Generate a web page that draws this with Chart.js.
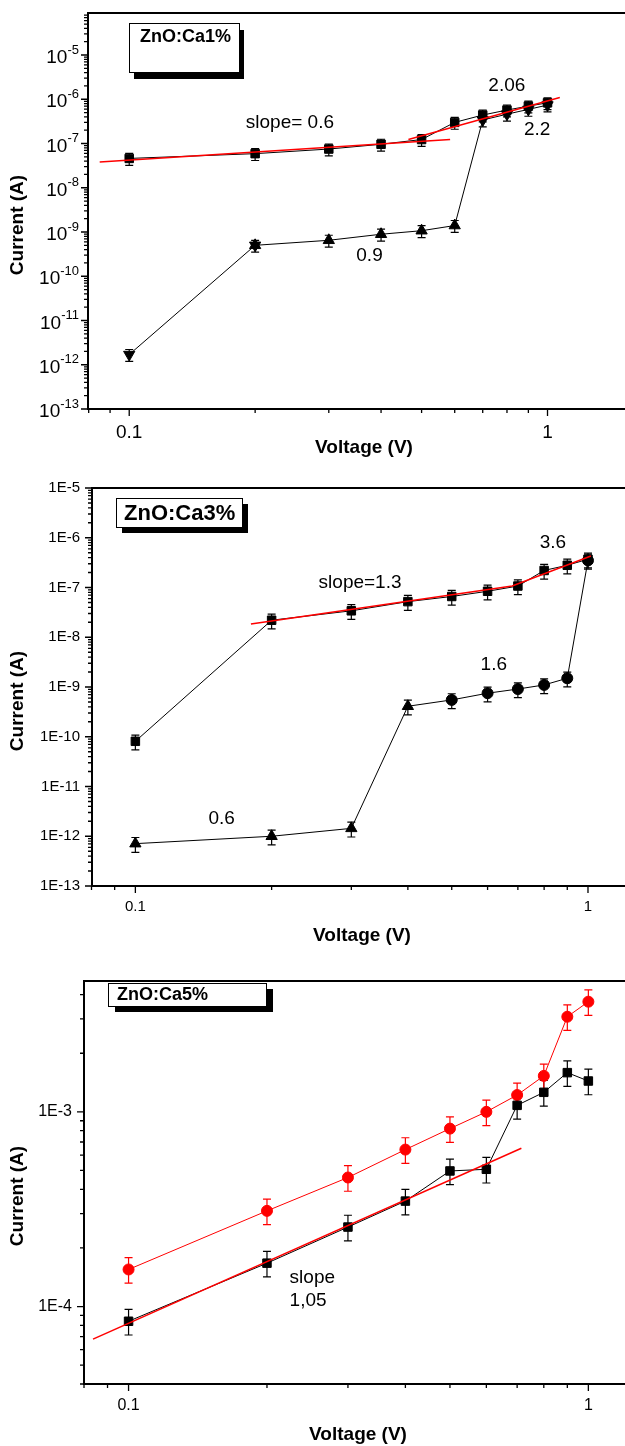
<!DOCTYPE html>
<html>
<head>
<meta charset="utf-8">
<title>ZnO:Ca I-V curves</title>
<script src="https://cdn.jsdelivr.net/npm/chart.js@4.4.1/dist/chart.umd.min.js"></script>
<style>
  html, body { margin: 0; padding: 0; background: #fff; }
  body { position: relative; width: 625px; height: 1446px; overflow: hidden; }
  canvas { position: absolute; left: 0; }
</style>
</head>
<body>
<canvas id="ca1" width="625" height="465" style="top:0px"></canvas>
<canvas id="ca3" width="625" height="490" style="top:465px"></canvas>
<canvas id="ca5" width="625" height="491" style="top:955px"></canvas>
<script>
const FONT = "'Liberation Sans', Arial, Helvetica, sans-serif";

const voltage = [0.1, 0.2, 0.3, 0.4, 0.5, 0.6, 0.7, 0.8, 0.9, 1.0];

// ZnO:Ca1%
const ca1Upper = [4.6e-8, 5.9e-8, 7.5e-8, 9.6e-8, 1.23e-7, 3.0e-7, 4.4e-7, 5.7e-7, 7.0e-7, 8.3e-7];
const ca1Lower = [1.7e-12, 5.0e-10, 6.5e-10, 8.9e-10, 1.07e-9, 1.4e-9, 3.4e-7, 4.6e-7, 5.9e-7, 7.4e-7];
const ca1FitLowV = [0.085, 0.585];
const ca1FitLowI = [3.8e-8, 1.23e-7];
const ca1FitHighV = [0.465, 1.07];
const ca1FitHighI = [1.23e-7, 1.1e-6];

// ZnO:Ca3%
const ca3Upper = [8.1e-11, 2.2e-8, 3.4e-8, 5.2e-8, 6.6e-8, 8.4e-8, 1.07e-7, 2.2e-7, 2.8e-7, 3.7e-7];
const ca3Lower = [7.1e-13, 1.0e-12, 1.44e-12, 4.1e-10, 5.5e-10, 7.5e-10, 9.1e-10, 1.1e-9, 1.5e-9, 3.5e-7];
const ca3FitV = [0.18, 0.68, 1.015];
const ca3FitI = [1.85e-8, 1.07e-7, 4.3e-7];

// ZnO:Ca5%
const ca5Black = [8.4e-5, 1.67e-4, 2.56e-4, 3.48e-4, 4.97e-4, 5.07e-4, 1.08e-3, 1.26e-3, 1.59e-3, 1.44e-3];
const ca5Red = [1.55e-4, 3.1e-4, 4.6e-4, 6.4e-4, 8.2e-4, 1.0e-3, 1.22e-3, 1.53e-3, 3.08e-3, 3.68e-3];
const ca5FitV = [0.0837, 0.715];
const ca5FitI = [6.8e-5, 6.5e-4];

function points(ys, xs = voltage) {
  return ys.map((y, i) => ({ x: xs[i], y: y }));
}

// 1..9 x 10^n positions inside [min, max]
function decadeMarks(min, max) {
  const major = [], minor = [];
  const lo = Math.floor(Math.log10(min)), hi = Math.ceil(Math.log10(max));
  for (let e = lo; e <= hi; e++) {
    for (let m = 1; m <= 9; m++) {
      const v = m * Math.pow(10, e);
      if (v < min * 0.995 || v > max * 1.005) continue;
      (m === 1 ? major : minor).push(v);
    }
  }
  return { major, minor };
}

const errorBars = {
  id: 'errorBars',
  beforeDatasetsDraw(chart) {
    const { ctx, scales: { x, y } } = chart;
    chart.data.datasets.forEach(ds => {
      if (!ds.errFrac) return;
      ctx.save();
      ctx.strokeStyle = ds.borderColor;
      ctx.lineWidth = 1.2;
      ds.data.forEach(p => {
        const px = x.getPixelForValue(p.x);
        const hi = y.getPixelForValue(p.y * (1 + ds.errFrac));
        const lo = y.getPixelForValue(p.y * (1 - ds.errFrac));
        ctx.beginPath();
        ctx.moveTo(px, hi); ctx.lineTo(px, lo);
        ctx.moveTo(px - 4, hi); ctx.lineTo(px + 4, hi);
        ctx.moveTo(px - 4, lo); ctx.lineTo(px + 4, lo);
        ctx.stroke();
      });
      ctx.restore();
    });
  }
};

const decor = {
  id: 'decor',
  afterDraw(chart, args, o) {
    const { ctx, chartArea: a, scales: { x, y } } = chart;
    ctx.save();

    // frame (open on the right)
    ctx.strokeStyle = '#000';
    ctx.lineWidth = 2;
    ctx.beginPath();
    ctx.moveTo(chart.width, a.top);
    ctx.lineTo(a.left, a.top);
    ctx.lineTo(a.left, a.bottom);
    ctx.lineTo(chart.width, a.bottom);
    ctx.stroke();

    // outward ticks
    ctx.lineWidth = 1.3;
    ctx.beginPath();
    const ym = decadeMarks(y.min, y.max);
    ym.major.forEach(v => { const p = y.getPixelForValue(v); ctx.moveTo(a.left, p); ctx.lineTo(a.left - 7, p); });
    ym.minor.forEach(v => { const p = y.getPixelForValue(v); ctx.moveTo(a.left, p); ctx.lineTo(a.left - 4, p); });
    const xm = decadeMarks(x.min, x.max);
    xm.major.forEach(v => { const p = x.getPixelForValue(v); ctx.moveTo(p, a.bottom); ctx.lineTo(p, a.bottom + 7); });
    xm.minor.forEach(v => { const p = x.getPixelForValue(v); ctx.moveTo(p, a.bottom); ctx.lineTo(p, a.bottom + 4); });
    ctx.stroke();

    ctx.fillStyle = '#000';
    ctx.textBaseline = 'middle';

    // 10^n labels with real superscripts
    if (o.powerLabels) {
      ym.major.forEach(v => {
        const p = y.getPixelForValue(v);
        const sup = String(Math.round(Math.log10(v)));
        ctx.font = `13px ${FONT}`;
        const ws = ctx.measureText(sup).width;
        const xr = a.left - 9;
        ctx.textAlign = 'left';
        ctx.fillText(sup, xr - ws, p - 5);
        ctx.font = `19px ${FONT}`;
        ctx.textAlign = 'right';
        ctx.fillText('10', xr - ws, p + 3);
      });
    }

    // sample label box with drop shadow
    const b = o.box;
    const bx = a.left + b.dx, by = a.top + b.dy;
    ctx.fillStyle = '#000';
    ctx.fillRect(bx + b.sx, by + b.sy, b.w, b.h);
    ctx.fillStyle = '#fff';
    ctx.fillRect(bx, by, b.w, b.h);
    ctx.lineWidth = 1;
    ctx.strokeRect(bx + 0.5, by + 0.5, b.w, b.h);
    ctx.fillStyle = '#000';
    ctx.font = `bold ${b.size}px ${FONT}`;
    ctx.textAlign = 'left';
    ctx.fillText(b.text, bx + b.tx, by + b.ty);

    // slope notes, anchored in data coordinates
    ctx.font = `19px ${FONT}`;
    o.notes.forEach(n => ctx.fillText(n.text, x.getPixelForValue(n.x), y.getPixelForValue(n.y)));

    // axis titles
    ctx.font = `bold 19px ${FONT}`;
    ctx.textAlign = 'center';
    ctx.fillText('Voltage (V)', o.xTitle[0], o.xTitle[1]);
    ctx.translate(o.yTitle[0], o.yTitle[1]);
    ctx.rotate(-Math.PI / 2);
    ctx.fillText('Current (A)', 0, 0);
    ctx.restore();
  }
};

function series(data, color, style, radius, extra) {
  return Object.assign({
    data: data,
    borderColor: color,
    backgroundColor: color,
    pointBackgroundColor: color,
    pointBorderColor: color,
    borderWidth: 1,
    pointStyle: style,
    pointRadius: radius,
    pointBorderWidth: 1,
    tension: 0,
    fill: false
  }, extra || {});
}

function fitLine(xs, ys) {
  return {
    data: points(ys, xs),
    borderColor: '#ff0000',
    borderWidth: 1.5,
    pointRadius: 0,
    tension: 0,
    fill: false,
    order: -1
  };
}

function makePanel(id, cfg) {
  new Chart(document.getElementById(id), {
    type: 'line',
    data: { datasets: cfg.datasets },
    options: {
      responsive: false,
      animation: false,
      events: [],
      layout: { padding: { top: cfg.top, right: 0, bottom: 0, left: 0 } },
      plugins: {
        legend: { display: false },
        tooltip: { enabled: false },
        decor: cfg.decor
      },
      scales: {
        x: {
          type: 'logarithmic',
          min: cfg.xMin,
          max: cfg.xMax,
          afterFit: s => { s.height = cfg.xAxisH; },
          afterBuildTicks: s => { s.ticks = decadeMarks(s.min, s.max).major.map(v => ({ value: v })); },
          grid: { display: false, drawTicks: false },
          border: { display: false },
          ticks: {
            autoSkip: false,
            maxRotation: 0,
            padding: 12,
            color: '#000',
            font: { family: FONT, size: cfg.xFont },
            callback: v => String(v)
          }
        },
        y: {
          type: 'logarithmic',
          min: cfg.yMin,
          max: cfg.yMax,
          afterFit: s => { s.width = cfg.yAxisW; },
          afterBuildTicks: s => { s.ticks = decadeMarks(s.min, s.max).major.map(v => ({ value: v })); },
          grid: { display: false, drawTicks: false },
          border: { display: false },
          ticks: {
            display: !cfg.decor.powerLabels,
            autoSkip: false,
            padding: 12,
            color: '#000',
            font: { family: FONT, size: cfg.yFont },
            callback: v => '1E' + Math.round(Math.log10(v))
          }
        }
      }
    },
    plugins: [errorBars, decor]
  });
}

makePanel('ca1', {
  top: 13, xAxisH: 56, yAxisW: 88,
  xMin: 0.0797, xMax: 1.47, yMin: 1e-13, yMax: 8.9e-5, xFont: 19, yFont: 15,
  datasets: [
    series(points(ca1Upper), '#000', 'rect', 6, { errFrac: 0.3 }),
    series(points(ca1Lower), '#000', 'triangle', 6.5,
      { errFrac: 0.3, pointRotation: [180, 0, 0, 0, 0, 0, 180, 180, 180, 180] }),
    series([{ x: voltage[1], y: ca1Lower[1] }], '#000', 'triangle', 6.5,
      { showLine: false, pointRotation: 180 }),
    fitLine(ca1FitLowV, ca1FitLowI),
    fitLine(ca1FitHighV, ca1FitHighI)
  ],
  decor: {
    powerLabels: true,
    box: { text: 'ZnO:Ca1%', dx: 41, dy: 10, w: 110, h: 49, sx: 5, sy: 7, tx: 11, ty: 14, size: 18 },
    notes: [
      { text: 'slope= 0.6', x: 0.19, y: 2.9e-7 },
      { text: '2.06', x: 0.722, y: 2.0e-6 },
      { text: '2.2', x: 0.878, y: 2.0e-7 },
      { text: '0.9', x: 0.349, y: 2.95e-10 }
    ],
    xTitle: [364, 448],
    yTitle: [18, 225]
  }
});

makePanel('ca3', {
  top: 23, xAxisH: 69, yAxisW: 92,
  xMin: 0.0802, xMax: 1.162, yMin: 1e-13, yMax: 1e-5, xFont: 15, yFont: 15,
  datasets: [
    series(points(ca3Upper), '#000', 'rect', 6, { errFrac: 0.33 }),
    series(points(ca3Lower), '#000',
      ['triangle', 'triangle', 'triangle', 'triangle', 'circle', 'circle', 'circle', 'circle', 'circle', 'circle'],
      [6.5, 6.5, 6.5, 6.5, 5.5, 5.5, 5.5, 5.5, 5.5, 5.5], { errFrac: 0.33 }),
    fitLine(ca3FitV, ca3FitI)
  ],
  decor: {
    powerLabels: false,
    box: { text: 'ZnO:Ca3%', dx: 24, dy: 10, w: 126, h: 29, sx: 6, sy: 6, tx: 8, ty: 16, size: 22 },
    notes: [
      { text: 'slope=1.3', x: 0.254, y: 1.23e-7 },
      { text: '3.6', x: 0.782, y: 7.9e-7 },
      { text: '1.6', x: 0.579, y: 2.8e-9 },
      { text: '0.6', x: 0.145, y: 2.2e-12 }
    ],
    xTitle: [362, 471],
    yTitle: [18, 236]
  }
});

makePanel('ca5', {
  top: 26, xAxisH: 62, yAxisW: 84,
  xMin: 0.080, xMax: 1.16, yMin: 4.0e-5, yMax: 4.7e-3, xFont: 16, yFont: 16,
  datasets: [
    series(points(ca5Black), '#000', 'rect', 6, { errFrac: 0.15 }),
    series(points(ca5Red), '#ff0000', 'circle', 5.5, { errFrac: 0.15 }),
    fitLine(ca5FitV, ca5FitI)
  ],
  decor: {
    powerLabels: false,
    box: { text: 'ZnO:Ca5%', dx: 24, dy: 2, w: 158, h: 23, sx: 7, sy: 6, tx: 9, ty: 12, size: 18 },
    notes: [
      { text: 'slope', x: 0.224, y: 1.41e-4 },
      { text: '1,05', x: 0.224, y: 1.07e-4 }
    ],
    xTitle: [358, 480],
    yTitle: [18, 241]
  }
});
</script>
</body>
</html>
